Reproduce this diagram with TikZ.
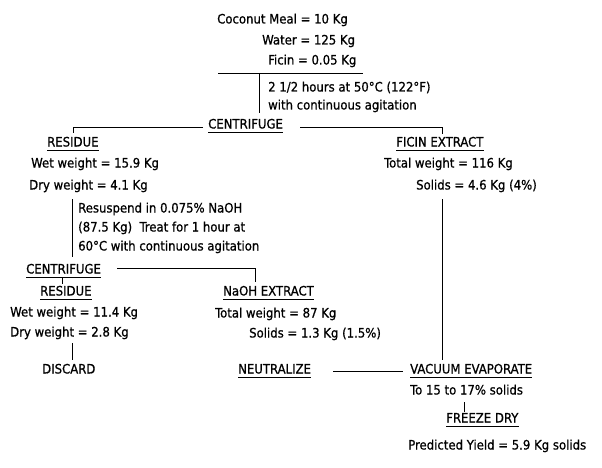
\documentclass[tikz,border=0pt]{standalone}
\usepackage{fontspec}
\setmainfont[FakeBold=0.8]{DejaVu Sans Condensed}
\begin{document}
\begin{tikzpicture}[x=1pt,y=-1pt,
  t/.style={anchor=west,inner sep=0pt,font=\fontsize{13}{15}\selectfont,text height=9.5pt,text depth=2.5pt},
  ul/.style={t,append after command={([yshift=-1.5pt]\tikzlastnode.south west) edge[ln] ([yshift=-1.5pt]\tikzlastnode.south east)}},
  ln/.style={draw,line width=0.85pt}]
\useasboundingbox (0,0) rectangle (602,468);
% top
\node[t] (meal) at (217,20) {Coconut Meal = 10 Kg};
\node[t] (water) at (262,41) {Water = 125 Kg};
\node[t] (ficin) at (268,61) {Ficin = 0.05 Kg};
\coordinate (tl) at (218,73);
\coordinate (tr) at (363,73);
\draw[ln] (tl) -- (tr);
\coordinate (v1a) at (259,73);
\coordinate (v1b) at (259,113);
\draw[ln] (v1a) -- (v1b);
\node[t] (c1a) at (268,88) {2 1/2 hours at 50°C (122°F)};
\node[t] (c1b) at (268,106) {with continuous agitation};
% centrifuge 1
\node[ul] (cent1) at (208,125) {CENTRIFUGE};
\coordinate (l1s) at (203,127);
\coordinate (l1) at (73,127);
\coordinate (l1d) at (73,133);
\coordinate (r1s) at (300,127);
\coordinate (r1) at (442,127);
\coordinate (r1d) at (442,134);
\draw[ln] (l1s) -- (l1) -- (l1d);
\draw[ln] (r1s) -- (r1) -- (r1d);
% residue 1
\node[ul] (res1) at (47,143) {RESIDUE};
\node[t] (wet1) at (31,164) {Wet weight = 15.9 Kg};
\node[t] (dry1) at (29,186) {Dry weight = 4.1 Kg};
\coordinate (v2a) at (72,199);
\coordinate (v2b) at (72,257);
\draw[ln] (v2a) -- (v2b);
\node[t] (rs1) at (78,209) {Resuspend in 0.075\% NaOH};
\node[t] (rs2) at (78,228) {(87.5 Kg)\ \ Treat for 1 hour at};
\node[t] (rs3) at (78,247) {60°C with continuous agitation};
% centrifuge 2
\node[ul] (cent2) at (26,270) {CENTRIFUGE};
\coordinate (r2s) at (117,268);
\coordinate (r2) at (255,268);
\coordinate (r2d) at (255,282);
\draw[ln] (r2s) -- (r2) -- (r2d);
\coordinate (t2a) at (62,278);
\coordinate (t2b) at (62,284);
\draw[ln] (t2a) -- (t2b);
\node[ul] (res2) at (40,292) {RESIDUE};
\node[t] (wet2) at (10,313) {Wet weight = 11.4 Kg};
\node[t] (dry2) at (10,333) {Dry weight = 2.8 Kg};
\coordinate (v3a) at (72,343);
\coordinate (v3b) at (72,360);
\draw[ln] (v3a) -- (v3b);
\node[t] (disc) at (42,370) {DISCARD};
% NaOH extract
\node[ul] (naoh) at (223,292) {NaOH EXTRACT};
\node[t] (tot2) at (215,314) {Total weight = 87 Kg};
\node[t] (sol2) at (249,334) {Solids = 1.3 Kg (1.5\%)};
\node[ul] (neut) at (238,370) {NEUTRALIZE};
% ficin extract
\node[ul] (fext) at (396,143) {FICIN EXTRACT};
\node[t] (tot1) at (384,164) {Total weight = 116 Kg};
\node[t] (sol1) at (416,186) {Solids = 4.6 Kg (4\%)};
\coordinate (v4a) at (442,199);
\coordinate (v4b) at (442,360);
\draw[ln] (v4a) -- (v4b);
% vacuum evaporate
\node[ul] (vac) at (410,370) {VACUUM EVAPORATE};
\coordinate (nl) at (333,371);
\coordinate (nr) at (403,371);
\draw[ln] (nl) -- (nr);
\node[t] (to15) at (410,391) {To 15 to 17\% solids};
\coordinate (v5a) at (464,402);
\coordinate (v5b) at (464,412);
\draw[ln] (v5a) -- (v5b);
\node[ul] (fd) at (446,419) {FREEZE DRY};
\node[t] (pred) at (408,446) {Predicted Yield = 5.9 Kg solids};
\end{tikzpicture}
\end{document}
